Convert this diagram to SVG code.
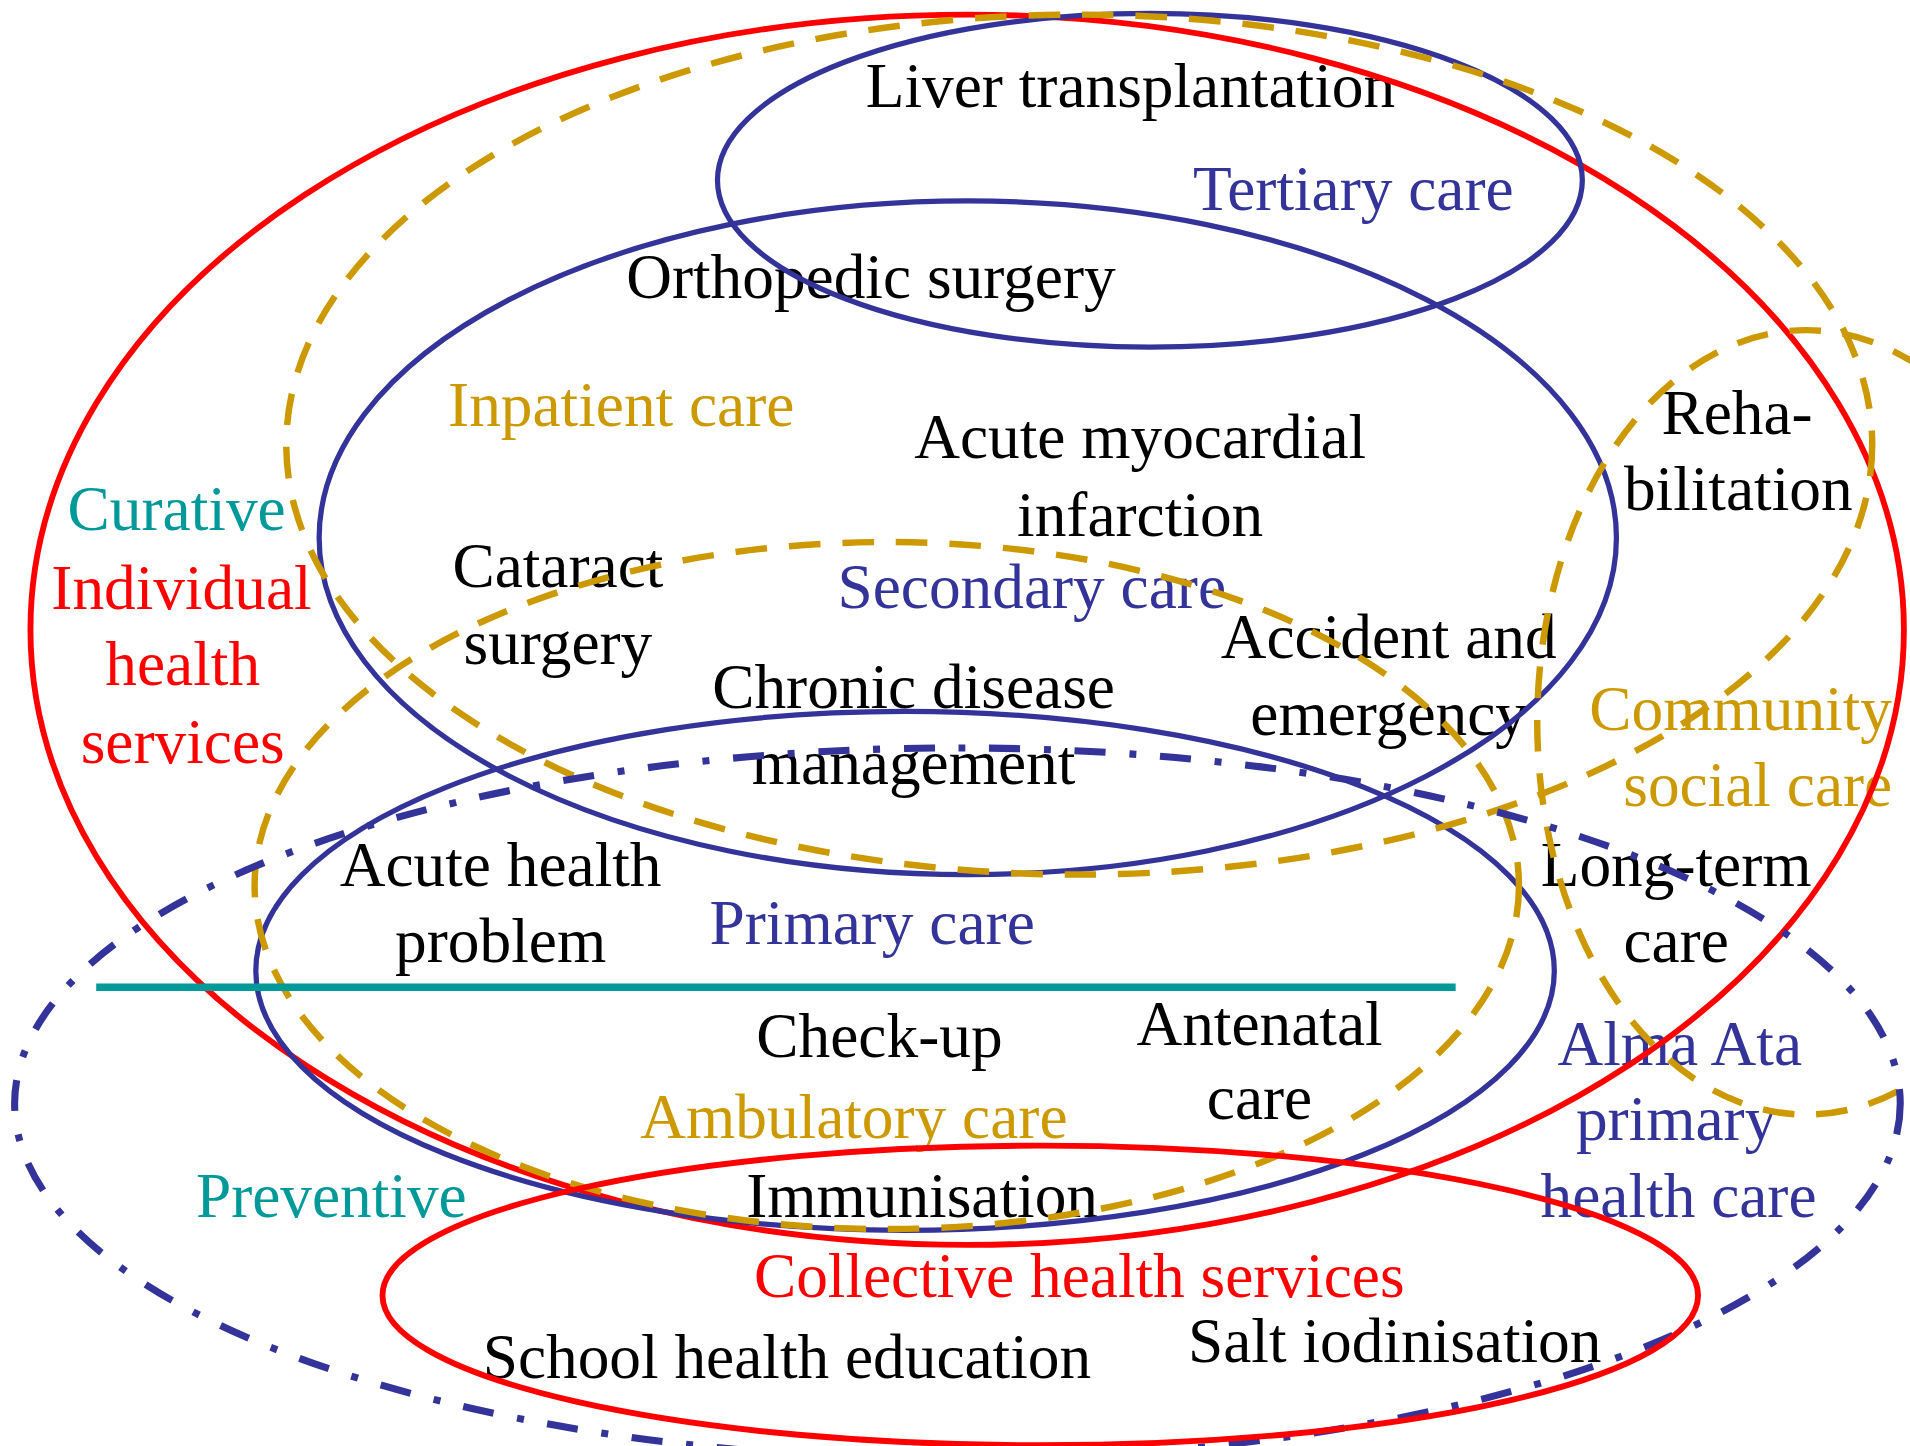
<svg xmlns="http://www.w3.org/2000/svg" width="1910" height="1446" viewBox="0 0 1910 1446">
  <style>
    .t { font-family: "Liberation Serif", "Times New Roman", serif; font-size: 52px; text-anchor: middle; }
    .k { fill: #000000; }
    .bt { fill: #333399; }
    .gt { fill: #CC9900; }
    .rt { fill: #FF0000; }
    .tt { fill: #009999; }
    .ring { fill: none; stroke-linecap: butt; }
    .red { stroke: #FF0000; stroke-width: 4.8; }
    .blue { stroke: #333399; stroke-width: 4.3; }
    .gold { stroke: #CC9900; stroke-width: 5.3; stroke-dasharray: 26 18; }
    .dashdot { stroke: #333399; stroke-width: 5.8; stroke-dasharray: 25.5 19.5 5.7 19.5; }
    .divider { stroke: #009999; stroke-width: 6; }
  </style>
  <rect width="1910" height="1446" fill="#FFFFFF"/>
  <!-- drawing laid out on a 1568-wide grid, scaled up to the canvas -->
  <g transform="scale(1.21811)">
    <!-- labels of the services and care levels -->
    <g id="labels" class="t">
      <text class="k" x="928" y="88">Liver transplantation</text>
      <text class="bt" x="1111" y="172">Tertiary care</text>
      <text class="k" x="715" y="245">Orthopedic surgery</text>
      <text class="gt" x="510" y="350">Inpatient care</text>
      <text class="k" x="936" y="376">Acute myocardial</text>
      <text class="k" x="936" y="440">infarction</text>
      <text class="tt" x="145" y="435">Curative</text>
      <text class="rt" x="149" y="500">Individual</text>
      <text class="rt" x="150" y="562">health</text>
      <text class="rt" x="150" y="626">services</text>
      <text class="k" x="458" y="482">Cataract</text>
      <text class="k" x="458" y="545">surgery</text>
      <text class="bt" x="847" y="499">Secondary care</text>
      <text class="k" x="1426" y="356">Reha-</text>
      <text class="k" x="1427" y="419">bilitation</text>
      <text class="k" x="1140" y="540">Accident and</text>
      <text class="k" x="1140" y="603">emergency</text>
      <text class="k" x="750" y="581">Chronic disease</text>
      <text class="k" x="750" y="644">management</text>
      <text class="gt" x="1429" y="599">Community</text>
      <text class="gt" x="1443" y="662">social care</text>
      <text class="k" x="411" y="727">Acute health</text>
      <text class="k" x="411" y="790">problem</text>
      <text class="bt" x="716" y="775">Primary care</text>
      <text class="k" x="1376" y="727">Long-term</text>
      <text class="k" x="1376" y="790">care</text>
      <text class="k" x="722" y="868">Check-up</text>
      <text class="k" x="1034" y="858">Antenatal</text>
      <text class="k" x="1034" y="919">care</text>
      <text class="gt" x="701" y="934">Ambulatory care</text>
      <text class="bt" x="1379" y="874">Alma Ata</text>
      <text class="bt" x="1376" y="936">primary</text>
      <text class="bt" x="1378" y="999">health care</text>
      <text class="tt" x="272" y="999">Preventive</text>
      <text class="k" x="757" y="999">Immunisation</text>
      <text class="rt" x="886" y="1065">Collective health services</text>
      <text class="k" x="646" y="1131">School health education</text>
      <text class="k" x="1145" y="1118">Salt iodinisation</text>
    </g>

    <!-- care sets -->
    <g id="individual-health-services">
      <ellipse class="ring red" cx="794" cy="517" rx="769" ry="505"/>
    </g>
    <g id="tertiary-care">
      <ellipse class="ring blue" cx="944" cy="148" rx="355" ry="137"/>
    </g>
    <g id="secondary-care">
      <ellipse class="ring blue" cx="794.5" cy="441.5" rx="532.5" ry="276.5"/>
    </g>
    <g id="primary-care">
      <ellipse class="ring blue" cx="743" cy="797" rx="533" ry="213"/>
    </g>
    <g id="inpatient-care">
      <ellipse class="ring gold" cx="886" cy="365" rx="651" ry="353"/>
    </g>
    <g id="ambulatory-care">
      <ellipse class="ring gold" cx="728" cy="727" rx="519" ry="282"/>
    </g>
    <g id="community-social-care">
      <ellipse class="ring gold" cx="1483" cy="593" rx="221" ry="322"/>
    </g>
    <g id="alma-ata-primary-health-care">
      <ellipse class="ring dashdot" cx="786" cy="906" rx="774" ry="292"/>
    </g>
    <g id="collective-health-services">
      <ellipse class="ring red" cx="854" cy="1063.5" rx="540" ry="123"/>
    </g>

    <!-- curative / preventive divide -->
    <g id="connectors">
      <line class="divider" x1="79" y1="810.5" x2="1195" y2="810.5"/>
    </g>
  </g>
</svg>
